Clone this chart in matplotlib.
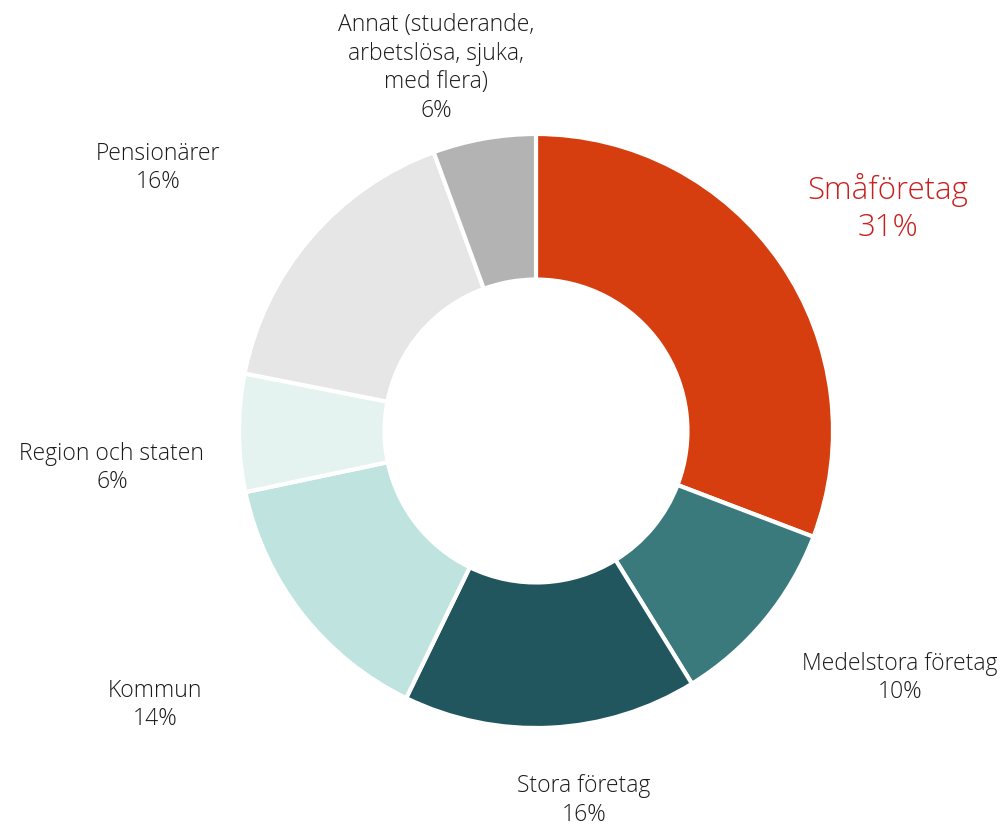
import matplotlib.pyplot as plt
from matplotlib import font_manager

# andel per grupp, medurs från klockan 12
grupper = ["Småföretag", "Medelstora företag", "Stora företag", "Kommun",
           "Region och staten", "Pensionärer",
           "Annat (studerande,\narbetslösa, sjuka,\nmed flera)"]
andelar = [30.8, 10.4, 16.0, 14.5, 6.4, 16.3, 5.6]
etiketter = ["31%", "10%", "16%", "14%", "6%", "16%", "6%"]
farger = ["#D63E0F", "#3B7A7C", "#21565E", "#BFE4DF", "#E5F3F0", "#E6E6E6", "#B2B3B2"]

# etikettpositioner (x, y) i enheter av ytterradien
pos = [(1.185, 0.754), (1.226, -0.828), (0.162, -1.24), (-1.283, -0.919),
       (-1.428, -0.121), (-1.273, 0.889), (-0.337, 1.226)]

namn = [f.name for f in font_manager.fontManager.ttflist]
typsnitt = "Open Sans" if "Open Sans" in namn else "DejaVu Sans"

fig = plt.figure(figsize=(10.06, 8.29), dpi=100)
ax = fig.add_axes([0, 0, 1, 1])

ax.pie(andelar, colors=farger, startangle=90, counterclock=False,
       radius=1.0, wedgeprops=dict(width=0.49, edgecolor="white", linewidth=3))

for i, (g, e) in enumerate(zip(grupper, etiketter)):
    x, y = pos[i]
    if i == 0:
        ax.text(x, y, g + "\n" + e, ha="center", va="center", fontsize=22.5,
                color="#C8201E", family=typsnitt, fontweight="light", linespacing=1.2)
    else:
        ax.text(x, y, g + "\n" + e, ha="center", va="center", fontsize=16.5,
                color="#1A1A1A", family=typsnitt, fontweight="light", linespacing=1.25)

ax.set_xlim(-536 / 297, (1006 - 536) / 297)
ax.set_ylim(-(829 - 432) / 297, 432 / 297)
ax.set_aspect("equal")
ax.axis("off")

fig.savefig("out.png", dpi=100, facecolor="white")
